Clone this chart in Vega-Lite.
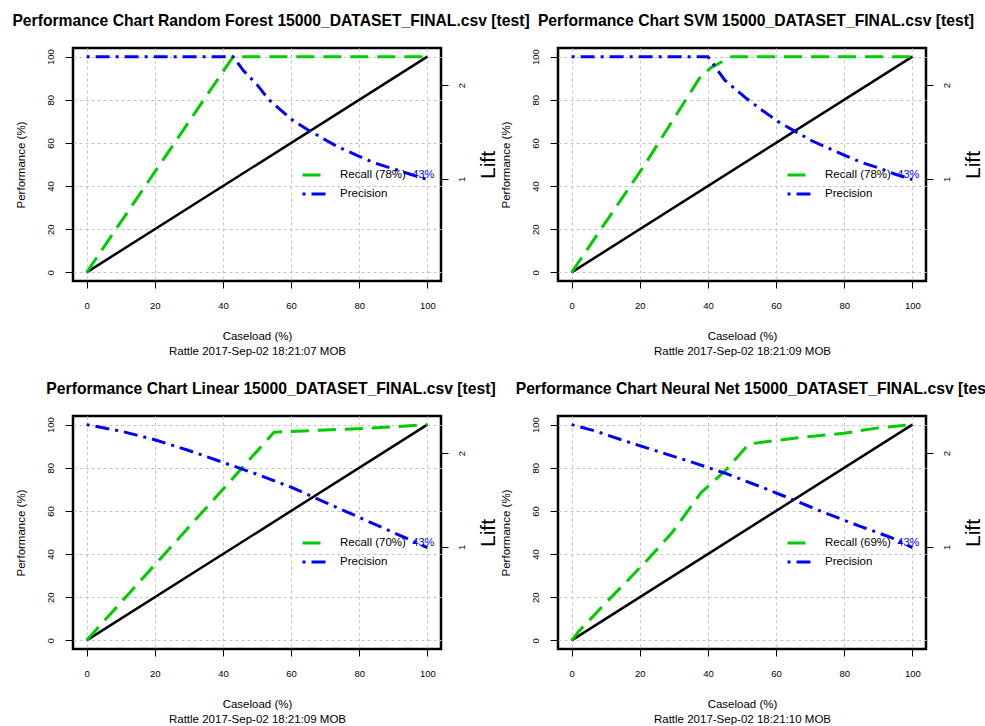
{
  "$schema": "https://vega.github.io/schema/vega-lite/v6.json",
  "background": "white",
  "padding": {"left": 11, "top": 12, "right": 0, "bottom": 0},
  "config": {
    "font": "Liberation Sans",
    "view": {"stroke": "black", "strokeWidth": 2.5},
    "axis": {"domain": false, "labelColor": "black", "tickColor": "black", "titleColor": "black", "titleFontWeight": "normal", "labelFont": "Liberation Sans", "titleFont": "Liberation Sans"},
    "title": {"font": "Liberation Sans", "color": "black"}
  },
  "datasets": {
    "curves": [
      {"model": "Random Forest", "kind": "baseline", "series": "Baseline", "x": 0, "y": 0},
      {"model": "Random Forest", "kind": "baseline", "series": "Baseline", "x": 100, "y": 100},
      {"model": "Random Forest", "kind": "recall", "series": "Recall (78%)", "x": 0, "y": 0},
      {"model": "Random Forest", "kind": "recall", "series": "Recall (78%)", "x": 43, "y": 100},
      {"model": "Random Forest", "kind": "recall", "series": "Recall (78%)", "x": 100, "y": 100},
      {"model": "Random Forest", "kind": "precision", "series": "Precision", "x": 0, "y": 100},
      {"model": "Random Forest", "kind": "precision", "series": "Precision", "x": 43, "y": 100},
      {"model": "Random Forest", "kind": "precision", "series": "Precision", "x": 46, "y": 93.5},
      {"model": "Random Forest", "kind": "precision", "series": "Precision", "x": 50, "y": 87},
      {"model": "Random Forest", "kind": "precision", "series": "Precision", "x": 53.5, "y": 80},
      {"model": "Random Forest", "kind": "precision", "series": "Precision", "x": 57.5, "y": 74.5},
      {"model": "Random Forest", "kind": "precision", "series": "Precision", "x": 60.5, "y": 70.5},
      {"model": "Random Forest", "kind": "precision", "series": "Precision", "x": 65, "y": 66},
      {"model": "Random Forest", "kind": "precision", "series": "Precision", "x": 70, "y": 61.5},
      {"model": "Random Forest", "kind": "precision", "series": "Precision", "x": 74, "y": 58},
      {"model": "Random Forest", "kind": "precision", "series": "Precision", "x": 79, "y": 54.5},
      {"model": "Random Forest", "kind": "precision", "series": "Precision", "x": 84, "y": 51},
      {"model": "Random Forest", "kind": "precision", "series": "Precision", "x": 89, "y": 48.5},
      {"model": "Random Forest", "kind": "precision", "series": "Precision", "x": 95, "y": 45.5},
      {"model": "Random Forest", "kind": "precision", "series": "Precision", "x": 100, "y": 43},

      {"model": "SVM", "kind": "baseline", "series": "Baseline", "x": 0, "y": 0},
      {"model": "SVM", "kind": "baseline", "series": "Baseline", "x": 100, "y": 100},
      {"model": "SVM", "kind": "recall", "series": "Recall (78%)", "x": 0, "y": 0},
      {"model": "SVM", "kind": "recall", "series": "Recall (78%)", "x": 21.5, "y": 50},
      {"model": "SVM", "kind": "recall", "series": "Recall (78%)", "x": 33.5, "y": 80},
      {"model": "SVM", "kind": "recall", "series": "Recall (78%)", "x": 37.5, "y": 90},
      {"model": "SVM", "kind": "recall", "series": "Recall (78%)", "x": 41, "y": 95},
      {"model": "SVM", "kind": "recall", "series": "Recall (78%)", "x": 44, "y": 97.5},
      {"model": "SVM", "kind": "recall", "series": "Recall (78%)", "x": 47, "y": 100},
      {"model": "SVM", "kind": "recall", "series": "Recall (78%)", "x": 100, "y": 100},
      {"model": "SVM", "kind": "precision", "series": "Precision", "x": 0, "y": 100},
      {"model": "SVM", "kind": "precision", "series": "Precision", "x": 40, "y": 100},
      {"model": "SVM", "kind": "precision", "series": "Precision", "x": 45, "y": 89},
      {"model": "SVM", "kind": "precision", "series": "Precision", "x": 51, "y": 81},
      {"model": "SVM", "kind": "precision", "series": "Precision", "x": 56, "y": 75},
      {"model": "SVM", "kind": "precision", "series": "Precision", "x": 61, "y": 69.5},
      {"model": "SVM", "kind": "precision", "series": "Precision", "x": 66, "y": 65},
      {"model": "SVM", "kind": "precision", "series": "Precision", "x": 70.5, "y": 61},
      {"model": "SVM", "kind": "precision", "series": "Precision", "x": 75.5, "y": 57.5},
      {"model": "SVM", "kind": "precision", "series": "Precision", "x": 80.5, "y": 54},
      {"model": "SVM", "kind": "precision", "series": "Precision", "x": 85, "y": 51},
      {"model": "SVM", "kind": "precision", "series": "Precision", "x": 90, "y": 48.5},
      {"model": "SVM", "kind": "precision", "series": "Precision", "x": 95, "y": 45.5},
      {"model": "SVM", "kind": "precision", "series": "Precision", "x": 100, "y": 43},

      {"model": "Linear", "kind": "baseline", "series": "Baseline", "x": 0, "y": 0},
      {"model": "Linear", "kind": "baseline", "series": "Baseline", "x": 100, "y": 100},
      {"model": "Linear", "kind": "recall", "series": "Recall (70%)", "x": 0, "y": 0},
      {"model": "Linear", "kind": "recall", "series": "Recall (70%)", "x": 20, "y": 35},
      {"model": "Linear", "kind": "recall", "series": "Recall (70%)", "x": 40, "y": 70},
      {"model": "Linear", "kind": "recall", "series": "Recall (70%)", "x": 55, "y": 96.5},
      {"model": "Linear", "kind": "recall", "series": "Recall (70%)", "x": 70, "y": 97.5},
      {"model": "Linear", "kind": "recall", "series": "Recall (70%)", "x": 85, "y": 98.5},
      {"model": "Linear", "kind": "recall", "series": "Recall (70%)", "x": 100, "y": 100},
      {"model": "Linear", "kind": "precision", "series": "Precision", "x": 0, "y": 100},
      {"model": "Linear", "kind": "precision", "series": "Precision", "x": 10, "y": 97},
      {"model": "Linear", "kind": "precision", "series": "Precision", "x": 20, "y": 93},
      {"model": "Linear", "kind": "precision", "series": "Precision", "x": 30, "y": 88},
      {"model": "Linear", "kind": "precision", "series": "Precision", "x": 40, "y": 82.5},
      {"model": "Linear", "kind": "precision", "series": "Precision", "x": 50, "y": 77},
      {"model": "Linear", "kind": "precision", "series": "Precision", "x": 60, "y": 71},
      {"model": "Linear", "kind": "precision", "series": "Precision", "x": 70, "y": 64},
      {"model": "Linear", "kind": "precision", "series": "Precision", "x": 80, "y": 57},
      {"model": "Linear", "kind": "precision", "series": "Precision", "x": 90, "y": 50},
      {"model": "Linear", "kind": "precision", "series": "Precision", "x": 100, "y": 43},

      {"model": "Neural Net", "kind": "baseline", "series": "Baseline", "x": 0, "y": 0},
      {"model": "Neural Net", "kind": "baseline", "series": "Baseline", "x": 100, "y": 100},
      {"model": "Neural Net", "kind": "recall", "series": "Recall (69%)", "x": 0, "y": 0},
      {"model": "Neural Net", "kind": "recall", "series": "Recall (69%)", "x": 2, "y": 4},
      {"model": "Neural Net", "kind": "recall", "series": "Recall (69%)", "x": 11, "y": 19},
      {"model": "Neural Net", "kind": "recall", "series": "Recall (69%)", "x": 21.5, "y": 36},
      {"model": "Neural Net", "kind": "recall", "series": "Recall (69%)", "x": 29.5, "y": 50},
      {"model": "Neural Net", "kind": "recall", "series": "Recall (69%)", "x": 38, "y": 68.5},
      {"model": "Neural Net", "kind": "recall", "series": "Recall (69%)", "x": 45, "y": 78.5},
      {"model": "Neural Net", "kind": "recall", "series": "Recall (69%)", "x": 52, "y": 91},
      {"model": "Neural Net", "kind": "recall", "series": "Recall (69%)", "x": 59, "y": 92.5},
      {"model": "Neural Net", "kind": "recall", "series": "Recall (69%)", "x": 70, "y": 94.5},
      {"model": "Neural Net", "kind": "recall", "series": "Recall (69%)", "x": 80, "y": 96},
      {"model": "Neural Net", "kind": "recall", "series": "Recall (69%)", "x": 90, "y": 98.5},
      {"model": "Neural Net", "kind": "recall", "series": "Recall (69%)", "x": 100, "y": 100},
      {"model": "Neural Net", "kind": "precision", "series": "Precision", "x": 0, "y": 100},
      {"model": "Neural Net", "kind": "precision", "series": "Precision", "x": 7, "y": 97},
      {"model": "Neural Net", "kind": "precision", "series": "Precision", "x": 15.5, "y": 92.5},
      {"model": "Neural Net", "kind": "precision", "series": "Precision", "x": 25.5, "y": 87.5},
      {"model": "Neural Net", "kind": "precision", "series": "Precision", "x": 35.5, "y": 82.5},
      {"model": "Neural Net", "kind": "precision", "series": "Precision", "x": 45, "y": 77.5},
      {"model": "Neural Net", "kind": "precision", "series": "Precision", "x": 55, "y": 71.5},
      {"model": "Neural Net", "kind": "precision", "series": "Precision", "x": 64.5, "y": 65.5},
      {"model": "Neural Net", "kind": "precision", "series": "Precision", "x": 74.5, "y": 59},
      {"model": "Neural Net", "kind": "precision", "series": "Precision", "x": 84.5, "y": 53},
      {"model": "Neural Net", "kind": "precision", "series": "Precision", "x": 94, "y": 47.5},
      {"model": "Neural Net", "kind": "precision", "series": "Precision", "x": 100, "y": 43}
    ],
    "labels": [
      {"model": "Random Forest", "x": 100, "y": 43, "label": "43%"},
      {"model": "SVM", "x": 100, "y": 43, "label": "43%"},
      {"model": "Linear", "x": 100, "y": 43, "label": "43%"},
      {"model": "Neural Net", "x": 100, "y": 43, "label": "43%"}
    ],
    "lift": [{"lift": 1}, {"lift": 2}]
  },
  "concat": [
    {
      "width": 368, "height": 233,
      "title": {"text": "Performance Chart Random Forest 15000_DATASET_FINAL.csv [test]", "anchor": "middle", "frame": "group", "dx": 14, "offset": 6, "baseline": "alphabetic", "fontSize": 15.7, "fontWeight": "bold"},
      "layer": [
        {"layer": [
          {"data": {"name": "curves"}, "transform": [{"filter": "datum.model === 'Random Forest' && datum.kind === 'baseline'"}],
           "mark": {"type": "line", "color": "black", "strokeWidth": 2.5},
           "encoding": {
             "x": {"field": "x", "type": "quantitative", "scale": {"domain": [-4, 104], "nice": false, "zero": false},
               "axis": {"values": [0,10,20,30,40,50,60,70,80,90,100], "grid": true, "gridColor": "#c4c4c4", "gridDash": [3,3], "gridWidth": 1, "tickSize": 7, "tickWidth": 1, "tickOpacity": {"condition": {"test": "datum.value % 20 === 0", "value": 1}, "value": 0}, "labelExpr": "datum.value % 20 === 0 ? datum.label : ''", "labelOverlap": false, "labelBound": false, "labelFlush": false, "labelPadding": 12, "labelFontSize": 9.5, "title": ["Caseload (%)", "Rattle 2017-Sep-02 18:21:07 MOB"], "titleFontSize": 11.5, "titleLineHeight": 15, "titleBaseline": "top", "titleAlign": "center", "titleX": 184, "titleY": 49}},
             "y": {"field": "y", "type": "quantitative", "scale": {"domain": [-4, 104], "nice": false, "zero": false},
               "axis": {"values": [0,10,20,30,40,50,60,70,80,90,100], "grid": true, "gridColor": "#c4c4c4", "gridDash": [3,3], "gridWidth": 1, "tickSize": 8, "tickWidth": 1, "tickOpacity": {"condition": {"test": "datum.value % 20 === 0", "value": 1}, "value": 0}, "labelExpr": "datum.value % 20 === 0 ? datum.label : ''", "labelOverlap": false, "labelBound": false, "labelFlush": false, "labelAngle": 270, "labelAlign": "center", "labelBaseline": "middle", "labelPadding": 15, "labelFontSize": 9.5, "title": "Performance (%)", "titleFontSize": 11.5, "titleAngle": 270, "titleAlign": "center", "titleBaseline": "middle", "titleX": -52, "titleY": 116.5}}
           }},
          {"data": {"name": "curves"}, "transform": [{"filter": "datum.model === 'Random Forest' && datum.kind !== 'baseline'"}],
           "mark": {"type": "line", "strokeWidth": 3, "strokeCap": "butt"},
           "encoding": {
             "x": {"field": "x", "type": "quantitative"},
             "y": {"field": "y", "type": "quantitative"},
             "color": {"field": "series", "type": "nominal", "scale": {"domain": ["Recall (78%)", "Precision"], "range": ["#00CD00", "#0000FF"]},
               "legend": {"orient": "none", "legendX": 228, "legendY": 114, "title": null, "symbolType": "stroke", "symbolSize": 529, "symbolStrokeWidth": 3, "labelFontSize": 11.5, "labelOffset": 13, "rowPadding": -8, "labelColor": "black", "padding": 0}},
             "strokeDash": {"field": "series", "type": "nominal", "scale": {"domain": ["Recall (78%)", "Precision"], "range": [[18, 9], [3, 6, 14, 6]]},
               "legend": {"orient": "none", "legendX": 228, "legendY": 114, "title": null, "symbolType": "stroke", "symbolSize": 529, "symbolStrokeWidth": 3, "labelFontSize": 11.5, "labelOffset": 13, "rowPadding": -8, "labelColor": "black", "padding": 0}}
           }},
          {"data": {"name": "labels"}, "transform": [{"filter": "datum.model === 'Random Forest'"}],
           "mark": {"type": "text", "align": "right", "baseline": "alphabetic", "dx": 7, "dy": -1.5, "fontSize": 11, "color": "#0000FF"},
           "encoding": {"x": {"field": "x", "type": "quantitative"}, "y": {"field": "y", "type": "quantitative"}, "text": {"field": "label"}}}
        ]},
        {"data": {"name": "lift"}, "mark": {"type": "rule", "opacity": 0},
         "encoding": {"y": {"field": "lift", "type": "quantitative", "scale": {"domain": [-0.0922, 2.3963], "nice": false, "zero": false},
           "axis": {"orient": "right", "values": [1, 2], "grid": false, "tickSize": 7, "tickWidth": 1, "labelAngle": 270, "labelAlign": "center", "labelBaseline": "middle", "labelPadding": 13, "labelFontSize": 9.5, "title": "Lift", "titleFontSize": 21, "titleAngle": 270, "titleAlign": "center", "titleBaseline": "middle", "titleX": 47, "titleY": 116.5}}}}
      ],
      "resolve": {"scale": {"y": "independent"}}
    },
    {
      "width": 368, "height": 233,
      "title": {"text": "Performance Chart SVM 15000_DATASET_FINAL.csv [test]", "anchor": "middle", "frame": "group", "dx": 14, "offset": 6, "baseline": "alphabetic", "fontSize": 15.7, "fontWeight": "bold"},
      "layer": [
        {"layer": [
          {"data": {"name": "curves"}, "transform": [{"filter": "datum.model === 'SVM' && datum.kind === 'baseline'"}],
           "mark": {"type": "line", "color": "black", "strokeWidth": 2.5},
           "encoding": {
             "x": {"field": "x", "type": "quantitative", "scale": {"domain": [-4, 104], "nice": false, "zero": false},
               "axis": {"values": [0,10,20,30,40,50,60,70,80,90,100], "grid": true, "gridColor": "#c4c4c4", "gridDash": [3,3], "gridWidth": 1, "tickSize": 7, "tickWidth": 1, "tickOpacity": {"condition": {"test": "datum.value % 20 === 0", "value": 1}, "value": 0}, "labelExpr": "datum.value % 20 === 0 ? datum.label : ''", "labelOverlap": false, "labelBound": false, "labelFlush": false, "labelPadding": 12, "labelFontSize": 9.5, "title": ["Caseload (%)", "Rattle 2017-Sep-02 18:21:09 MOB"], "titleFontSize": 11.5, "titleLineHeight": 15, "titleBaseline": "top", "titleAlign": "center", "titleX": 184, "titleY": 49}},
             "y": {"field": "y", "type": "quantitative", "scale": {"domain": [-4, 104], "nice": false, "zero": false},
               "axis": {"values": [0,10,20,30,40,50,60,70,80,90,100], "grid": true, "gridColor": "#c4c4c4", "gridDash": [3,3], "gridWidth": 1, "tickSize": 8, "tickWidth": 1, "tickOpacity": {"condition": {"test": "datum.value % 20 === 0", "value": 1}, "value": 0}, "labelExpr": "datum.value % 20 === 0 ? datum.label : ''", "labelOverlap": false, "labelBound": false, "labelFlush": false, "labelAngle": 270, "labelAlign": "center", "labelBaseline": "middle", "labelPadding": 15, "labelFontSize": 9.5, "title": "Performance (%)", "titleFontSize": 11.5, "titleAngle": 270, "titleAlign": "center", "titleBaseline": "middle", "titleX": -52, "titleY": 116.5}}
           }},
          {"data": {"name": "curves"}, "transform": [{"filter": "datum.model === 'SVM' && datum.kind !== 'baseline'"}],
           "mark": {"type": "line", "strokeWidth": 3, "strokeCap": "butt"},
           "encoding": {
             "x": {"field": "x", "type": "quantitative"},
             "y": {"field": "y", "type": "quantitative"},
             "color": {"field": "series", "type": "nominal", "scale": {"domain": ["Recall (78%)", "Precision"], "range": ["#00CD00", "#0000FF"]},
               "legend": {"orient": "none", "legendX": 228, "legendY": 114, "title": null, "symbolType": "stroke", "symbolSize": 529, "symbolStrokeWidth": 3, "labelFontSize": 11.5, "labelOffset": 13, "rowPadding": -8, "labelColor": "black", "padding": 0}},
             "strokeDash": {"field": "series", "type": "nominal", "scale": {"domain": ["Recall (78%)", "Precision"], "range": [[18, 9], [3, 6, 14, 6]]},
               "legend": {"orient": "none", "legendX": 228, "legendY": 114, "title": null, "symbolType": "stroke", "symbolSize": 529, "symbolStrokeWidth": 3, "labelFontSize": 11.5, "labelOffset": 13, "rowPadding": -8, "labelColor": "black", "padding": 0}}
           }},
          {"data": {"name": "labels"}, "transform": [{"filter": "datum.model === 'SVM'"}],
           "mark": {"type": "text", "align": "right", "baseline": "alphabetic", "dx": 7, "dy": -1.5, "fontSize": 11, "color": "#0000FF"},
           "encoding": {"x": {"field": "x", "type": "quantitative"}, "y": {"field": "y", "type": "quantitative"}, "text": {"field": "label"}}}
        ]},
        {"data": {"name": "lift"}, "mark": {"type": "rule", "opacity": 0},
         "encoding": {"y": {"field": "lift", "type": "quantitative", "scale": {"domain": [-0.0922, 2.3963], "nice": false, "zero": false},
           "axis": {"orient": "right", "values": [1, 2], "grid": false, "tickSize": 7, "tickWidth": 1, "labelAngle": 270, "labelAlign": "center", "labelBaseline": "middle", "labelPadding": 13, "labelFontSize": 9.5, "title": "Lift", "titleFontSize": 21, "titleAngle": 270, "titleAlign": "center", "titleBaseline": "middle", "titleX": 47, "titleY": 116.5}}}}
      ],
      "resolve": {"scale": {"y": "independent"}}
    },
    {
      "width": 368, "height": 233,
      "title": {"text": "Performance Chart Linear 15000_DATASET_FINAL.csv [test]", "anchor": "middle", "frame": "group", "dx": 14, "offset": 6, "baseline": "alphabetic", "fontSize": 15.7, "fontWeight": "bold"},
      "layer": [
        {"layer": [
          {"data": {"name": "curves"}, "transform": [{"filter": "datum.model === 'Linear' && datum.kind === 'baseline'"}],
           "mark": {"type": "line", "color": "black", "strokeWidth": 2.5},
           "encoding": {
             "x": {"field": "x", "type": "quantitative", "scale": {"domain": [-4, 104], "nice": false, "zero": false},
               "axis": {"values": [0,10,20,30,40,50,60,70,80,90,100], "grid": true, "gridColor": "#c4c4c4", "gridDash": [3,3], "gridWidth": 1, "tickSize": 7, "tickWidth": 1, "tickOpacity": {"condition": {"test": "datum.value % 20 === 0", "value": 1}, "value": 0}, "labelExpr": "datum.value % 20 === 0 ? datum.label : ''", "labelOverlap": false, "labelBound": false, "labelFlush": false, "labelPadding": 12, "labelFontSize": 9.5, "title": ["Caseload (%)", "Rattle 2017-Sep-02 18:21:09 MOB"], "titleFontSize": 11.5, "titleLineHeight": 15, "titleBaseline": "top", "titleAlign": "center", "titleX": 184, "titleY": 49}},
             "y": {"field": "y", "type": "quantitative", "scale": {"domain": [-4, 104], "nice": false, "zero": false},
               "axis": {"values": [0,10,20,30,40,50,60,70,80,90,100], "grid": true, "gridColor": "#c4c4c4", "gridDash": [3,3], "gridWidth": 1, "tickSize": 8, "tickWidth": 1, "tickOpacity": {"condition": {"test": "datum.value % 20 === 0", "value": 1}, "value": 0}, "labelExpr": "datum.value % 20 === 0 ? datum.label : ''", "labelOverlap": false, "labelBound": false, "labelFlush": false, "labelAngle": 270, "labelAlign": "center", "labelBaseline": "middle", "labelPadding": 15, "labelFontSize": 9.5, "title": "Performance (%)", "titleFontSize": 11.5, "titleAngle": 270, "titleAlign": "center", "titleBaseline": "middle", "titleX": -52, "titleY": 116.5}}
           }},
          {"data": {"name": "curves"}, "transform": [{"filter": "datum.model === 'Linear' && datum.kind !== 'baseline'"}],
           "mark": {"type": "line", "strokeWidth": 3, "strokeCap": "butt"},
           "encoding": {
             "x": {"field": "x", "type": "quantitative"},
             "y": {"field": "y", "type": "quantitative"},
             "color": {"field": "series", "type": "nominal", "scale": {"domain": ["Recall (70%)", "Precision"], "range": ["#00CD00", "#0000FF"]},
               "legend": {"orient": "none", "legendX": 228, "legendY": 114, "title": null, "symbolType": "stroke", "symbolSize": 529, "symbolStrokeWidth": 3, "labelFontSize": 11.5, "labelOffset": 13, "rowPadding": -8, "labelColor": "black", "padding": 0}},
             "strokeDash": {"field": "series", "type": "nominal", "scale": {"domain": ["Recall (70%)", "Precision"], "range": [[18, 9], [3, 6, 14, 6]]},
               "legend": {"orient": "none", "legendX": 228, "legendY": 114, "title": null, "symbolType": "stroke", "symbolSize": 529, "symbolStrokeWidth": 3, "labelFontSize": 11.5, "labelOffset": 13, "rowPadding": -8, "labelColor": "black", "padding": 0}}
           }},
          {"data": {"name": "labels"}, "transform": [{"filter": "datum.model === 'Linear'"}],
           "mark": {"type": "text", "align": "right", "baseline": "alphabetic", "dx": 7, "dy": -1.5, "fontSize": 11, "color": "#0000FF"},
           "encoding": {"x": {"field": "x", "type": "quantitative"}, "y": {"field": "y", "type": "quantitative"}, "text": {"field": "label"}}}
        ]},
        {"data": {"name": "lift"}, "mark": {"type": "rule", "opacity": 0},
         "encoding": {"y": {"field": "lift", "type": "quantitative", "scale": {"domain": [-0.0922, 2.3963], "nice": false, "zero": false},
           "axis": {"orient": "right", "values": [1, 2], "grid": false, "tickSize": 7, "tickWidth": 1, "labelAngle": 270, "labelAlign": "center", "labelBaseline": "middle", "labelPadding": 13, "labelFontSize": 9.5, "title": "Lift", "titleFontSize": 21, "titleAngle": 270, "titleAlign": "center", "titleBaseline": "middle", "titleX": 47, "titleY": 116.5}}}}
      ],
      "resolve": {"scale": {"y": "independent"}}
    },
    {
      "width": 368, "height": 233,
      "title": {"text": "Performance Chart Neural Net 15000_DATASET_FINAL.csv [test]", "anchor": "middle", "frame": "group", "dx": 14, "offset": 6, "baseline": "alphabetic", "fontSize": 15.7, "fontWeight": "bold"},
      "layer": [
        {"layer": [
          {"data": {"name": "curves"}, "transform": [{"filter": "datum.model === 'Neural Net' && datum.kind === 'baseline'"}],
           "mark": {"type": "line", "color": "black", "strokeWidth": 2.5},
           "encoding": {
             "x": {"field": "x", "type": "quantitative", "scale": {"domain": [-4, 104], "nice": false, "zero": false},
               "axis": {"values": [0,10,20,30,40,50,60,70,80,90,100], "grid": true, "gridColor": "#c4c4c4", "gridDash": [3,3], "gridWidth": 1, "tickSize": 7, "tickWidth": 1, "tickOpacity": {"condition": {"test": "datum.value % 20 === 0", "value": 1}, "value": 0}, "labelExpr": "datum.value % 20 === 0 ? datum.label : ''", "labelOverlap": false, "labelBound": false, "labelFlush": false, "labelPadding": 12, "labelFontSize": 9.5, "title": ["Caseload (%)", "Rattle 2017-Sep-02 18:21:10 MOB"], "titleFontSize": 11.5, "titleLineHeight": 15, "titleBaseline": "top", "titleAlign": "center", "titleX": 184, "titleY": 49}},
             "y": {"field": "y", "type": "quantitative", "scale": {"domain": [-4, 104], "nice": false, "zero": false},
               "axis": {"values": [0,10,20,30,40,50,60,70,80,90,100], "grid": true, "gridColor": "#c4c4c4", "gridDash": [3,3], "gridWidth": 1, "tickSize": 8, "tickWidth": 1, "tickOpacity": {"condition": {"test": "datum.value % 20 === 0", "value": 1}, "value": 0}, "labelExpr": "datum.value % 20 === 0 ? datum.label : ''", "labelOverlap": false, "labelBound": false, "labelFlush": false, "labelAngle": 270, "labelAlign": "center", "labelBaseline": "middle", "labelPadding": 15, "labelFontSize": 9.5, "title": "Performance (%)", "titleFontSize": 11.5, "titleAngle": 270, "titleAlign": "center", "titleBaseline": "middle", "titleX": -52, "titleY": 116.5}}
           }},
          {"data": {"name": "curves"}, "transform": [{"filter": "datum.model === 'Neural Net' && datum.kind !== 'baseline'"}],
           "mark": {"type": "line", "strokeWidth": 3, "strokeCap": "butt"},
           "encoding": {
             "x": {"field": "x", "type": "quantitative"},
             "y": {"field": "y", "type": "quantitative"},
             "color": {"field": "series", "type": "nominal", "scale": {"domain": ["Recall (69%)", "Precision"], "range": ["#00CD00", "#0000FF"]},
               "legend": {"orient": "none", "legendX": 228, "legendY": 114, "title": null, "symbolType": "stroke", "symbolSize": 529, "symbolStrokeWidth": 3, "labelFontSize": 11.5, "labelOffset": 13, "rowPadding": -8, "labelColor": "black", "padding": 0}},
             "strokeDash": {"field": "series", "type": "nominal", "scale": {"domain": ["Recall (69%)", "Precision"], "range": [[18, 9], [3, 6, 14, 6]]},
               "legend": {"orient": "none", "legendX": 228, "legendY": 114, "title": null, "symbolType": "stroke", "symbolSize": 529, "symbolStrokeWidth": 3, "labelFontSize": 11.5, "labelOffset": 13, "rowPadding": -8, "labelColor": "black", "padding": 0}}
           }},
          {"data": {"name": "labels"}, "transform": [{"filter": "datum.model === 'Neural Net'"}],
           "mark": {"type": "text", "align": "right", "baseline": "alphabetic", "dx": 7, "dy": -1.5, "fontSize": 11, "color": "#0000FF"},
           "encoding": {"x": {"field": "x", "type": "quantitative"}, "y": {"field": "y", "type": "quantitative"}, "text": {"field": "label"}}}
        ]},
        {"data": {"name": "lift"}, "mark": {"type": "rule", "opacity": 0},
         "encoding": {"y": {"field": "lift", "type": "quantitative", "scale": {"domain": [-0.0922, 2.3963], "nice": false, "zero": false},
           "axis": {"orient": "right", "values": [1, 2], "grid": false, "tickSize": 7, "tickWidth": 1, "labelAngle": 270, "labelAlign": "center", "labelBaseline": "middle", "labelPadding": 13, "labelFontSize": 9.5, "title": "Lift", "titleFontSize": 21, "titleAngle": 270, "titleAlign": "center", "titleBaseline": "middle", "titleX": 47, "titleY": 116.5}}}}
      ],
      "resolve": {"scale": {"y": "independent"}}
    }
  ],
  "columns": 2,
  "spacing": {"row": 135, "column": 117},
  "bounds": "flush",
  "resolve": {"scale": {"color": "independent", "strokeDash": "independent", "x": "independent", "y": "independent"}}
}
